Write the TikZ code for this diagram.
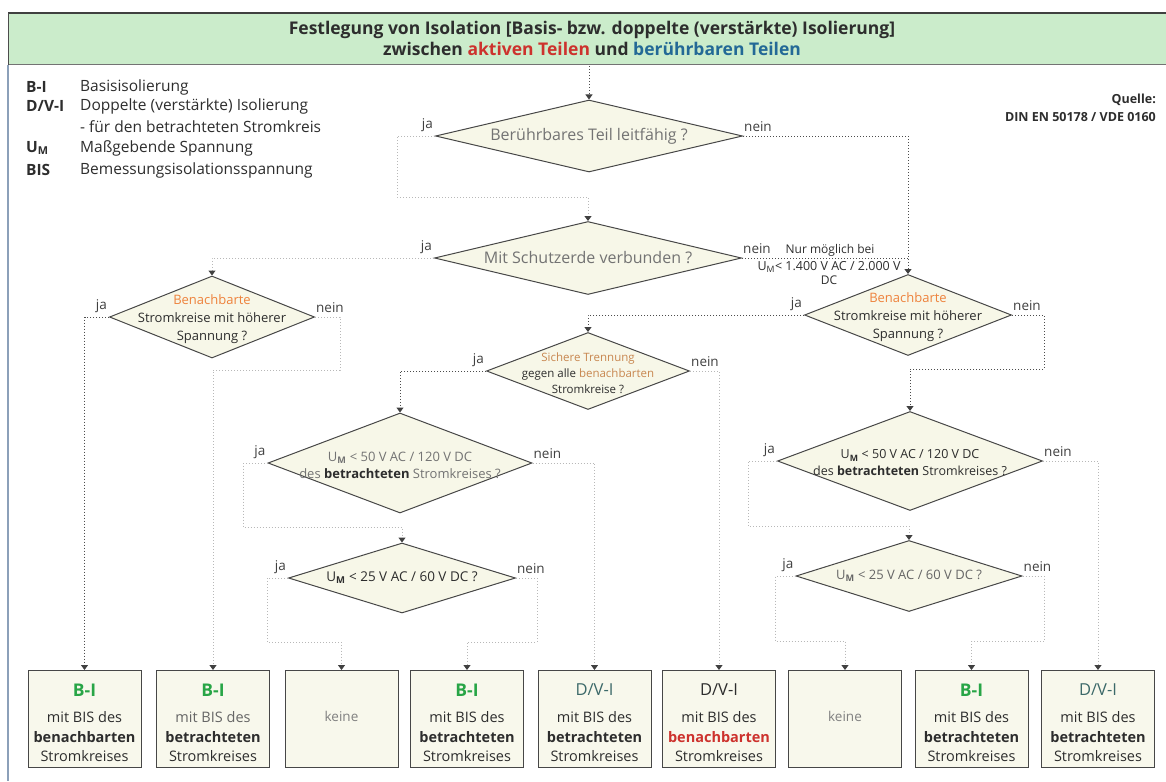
\documentclass[tikz,border=0pt]{standalone}
\usepackage{fontspec}
\setmainfont{Open Sans}
\usetikzlibrary{shapes.geometric,arrows.meta}
\definecolor{hdrgreen}{RGB}{203,236,203}
\definecolor{diafill}{RGB}{247,247,232}
\definecolor{boxfill}{RGB}{248,248,236}
\definecolor{bigreen}{RGB}{40,165,70}
\definecolor{dvteal}{RGB}{60,105,105}
\definecolor{benorange}{RGB}{238,130,60}
\definecolor{sichbrown}{RGB}{200,135,80}
\definecolor{tred}{RGB}{205,50,45}
\definecolor{tblue}{RGB}{35,105,150}
\definecolor{frameblue}{RGB}{140,160,185}
\definecolor{txt}{RGB}{45,45,45}
\newcommand{\fs}[2]{\fontsize{#1}{#2}\selectfont}
\newcommand{\UM}{U\textsubscript{\textbf{M}}}
\begin{document}
\begin{tikzpicture}[x=1pt,y=-1pt,
  dia/.style={diamond, draw=black!72, fill=diafill, line width=1pt, inner sep=0pt},
  dtxt/.style={align=center, inner sep=0pt, text=txt},
  con/.style={dotted, line width=1pt, draw=black!70},
  confade/.style={dotted, line width=1pt, draw=black!28},
  arr/.style={-{Triangle[width=7pt,length=5pt,color=black!75]}},
  resbox/.style={draw=black!72, fill=boxfill, line width=1pt, minimum width=113pt, minimum height=97pt, inner sep=0pt},
  lab/.style={inner sep=1pt, font=\fs{13.5}{15}, text=black!75},
  legl/.style={anchor=west, inner sep=0pt, font=\bfseries\fs{15.5}{17}, text=txt},
  legr/.style={anchor=west, inner sep=0pt, font=\fs{15.5}{17}, text=txt},
  bhead/.style={inner sep=0pt, font=\bfseries\fs{17.5}{19}, text=bigreen},
  dhead/.style={inner sep=0pt, font=\fs{16.5}{19}, text=dvteal},
  bbody/.style={inner sep=0pt, align=center, font=\fs{14.5}{19.5}, text=txt}
]
\useasboundingbox (0,0) rectangle (1166,781);
% header
\fill[hdrgreen] (8,13) rectangle (1166,65);
\draw[black!75, line width=1.2pt] (8,13) -- (1166,13);
\draw[black!55, line width=1pt] (8,65) -- (1166,65);
\draw[black!70, line width=1pt] (8,13) -- (8,65);
\draw[frameblue, line width=1.2pt] (8,65) -- (8,781);
\node[align=center, inner sep=0pt, font=\bfseries\fs{17.5}{21}, text=txt] (title) at (592,38)
  {Festlegung von Isolation [Basis- bzw. doppelte (verstärkte) Isolierung]\\
   zwischen \textcolor{tred}{aktiven Teilen} und \textcolor{tblue}{berührbaren Teilen}};
% legend
\node[legl] (l1) at (26,87) {B-I};
\node[legl] (l2) at (26,106) {D/V-I};
\node[legl] (l3) at (26,148) {U\textsubscript{M}};
\node[legl] (l4) at (26,170) {BIS};
\node[legr] (r1) at (80,87) {Basisisolierung};
\node[legr] (r2) at (80,106) {Doppelte (verstärkte) Isolierung};
\node[legr] (r3) at (80,127) {- für den betrachteten Stromkreis};
\node[legr] (r4) at (80,148) {Maßgebende Spannung};
\node[legr] (r5) at (80,170) {Bemessungsisolationsspannung};
\node[anchor=east, inner sep=0pt, font=\bfseries\fs{12.5}{14}, text=txt] (q1) at (1156,100) {Quelle:};
\node[anchor=east, inner sep=0pt, font=\bfseries\fs{12.5}{14}, text=txt] (q2) at (1156,117) {DIN EN 50178 / VDE 0160};
% diamonds
\node[dia, minimum width=307pt, minimum height=72pt] (d1) at (589,136) {};
\node[dtxt, font=\fs{16}{18}, text=black!55] (d1t) at (d1) {Berührbares Teil leitfähig ?};
\node[dia, minimum width=307pt, minimum height=73pt] (d2) at (588,258) {};
\node[dtxt, font=\fs{16}{18}, text=black!55] (d2t) at (d2) {Mit Schutzerde verbunden ?};
\node[dia, minimum width=205pt, minimum height=82pt] (d3) at (212,317) {};
\node[dtxt, font=\fs{13}{18}] (d3t) at ([yshift=-2pt]d3.center) {\textcolor{benorange}{Benachbarte}\\Stromkreise mit höherer\\Spannung ?};
\node[dia, minimum width=207pt, minimum height=81pt] (d4) at (908,315) {};
\node[dtxt, font=\fs{13}{18}] (d4t) at ([yshift=-2pt]d4.center) {\textcolor{benorange}{Benachbarte}\\Stromkreise mit höherer\\Spannung ?};
\node[dia, minimum width=203pt, minimum height=77pt] (d5) at (588,371) {};
\node[dtxt, font=\fs{11.5}{16}] (d5t) at ([yshift=-2pt]d5.center) {\textcolor{sichbrown}{Sichere Trennung}\\gegen alle \textcolor{sichbrown}{benachbarten}\\Stromkreise ?};
\node[dia, minimum width=264pt, minimum height=100pt] (d6) at (400,463) {};
\node[dtxt, font=\fs{13}{17}, text=black!55] (d6t) at ([yshift=-2pt]d6.center) {\UM{} < 50 V AC / 120 V DC\\des \textcolor{txt}{\textbf{betrachteten}} Stromkreises ?};
\node[dia, minimum width=265pt, minimum height=99pt] (d7) at (910,461) {};
\node[dtxt, font=\fs{12.5}{17}] (d7t) at ([yshift=-2pt]d7.center) {\UM{} < 50 V AC / 120 V DC\\des \textbf{betrachteten} Stromkreises ?};
\node[dia, minimum width=227pt, minimum height=70pt] (d8) at (402,578) {};
\node[dtxt, font=\fs{13.5}{15}] (d8t) at (d8) {\UM{} < 25 V AC / 60 V DC ?};
\node[dia, minimum width=226pt, minimum height=71pt] (d9) at (909,576) {};
\node[dtxt, font=\fs{13}{15}, text=black!60] (d9t) at (d9) {\UM{} < 25 V AC / 60 V DC ?};
% ja / nein labels
\foreach \d in {d1,d2,d3,d4,d5,d6,d7,d8,d9}{
  \node[lab, anchor=south east] (\d ja) at ([xshift=-1pt,yshift=3pt]\d.west) {ja};
  \node[lab, anchor=south west] (\d nein) at ([yshift=3pt]\d.east) {nein};
}
% result boxes
\node[resbox] (b1) at (84.5,719) {};
\node[resbox] (b2) at (213,719) {};
\node[resbox] (b3) at (341.5,719) {};
\node[resbox] (b4) at (467,719) {};
\node[resbox] (b5) at (594.5,719) {};
\node[resbox] (b6) at (719,719) {};
\node[resbox] (b7) at (845,719) {};
\node[resbox] (b8) at (971.5,719) {};
\node[resbox] (b9) at (1098,719) {};
\node[bhead] (b1h) at (84.5,690) {B-I};
\node[bbody] (b1t) at (84.5,737) {mit BIS des\\\textbf{benachbarten}\\Stromkreises};
\node[bhead] (b2h) at (213,690) {B-I};
\node[bbody] (b2t) at (213,737) {\textcolor{black!60}{mit BIS des}\\\textbf{betrachteten}\\Stromkreises};
\node[inner sep=0pt, font=\fs{13.5}{15}, text=black!50] (b3t) at (341.5,716) {keine};
\node[bhead] (b4h) at (467,690) {B-I};
\node[bbody] (b4t) at (467,737) {mit BIS des\\\textbf{betrachteten}\\Stromkreises};
\node[dhead] (b5h) at (594.5,690) {D/V-I};
\node[bbody] (b5t) at (594.5,737) {mit BIS des\\\textbf{betrachteten}\\Stromkreises};
\node[dhead, text=txt] (b6h) at (719,690) {D/V-I};
\node[bbody] (b6t) at (719,737) {mit BIS des\\\textcolor{tred}{\textbf{benachbarten}}\\Stromkreises};
\node[inner sep=0pt, font=\fs{13.5}{15}, text=black!50] (b7t) at (845,716) {keine};
\node[bhead] (b8h) at (971.5,690) {B-I};
\node[bbody] (b8t) at (971.5,737) {mit BIS des\\\textbf{betrachteten}\\Stromkreises};
\node[dhead] (b9h) at (1098,690) {D/V-I};
\node[bbody] (b9t) at (1098,737) {mit BIS des\\\textbf{betrachteten}\\Stromkreises};
% note on D2 nein
\node[inner sep=0pt, font=\fs{12}{13}, text=txt] (nur1) at (830,250) {Nur möglich bei};
\node[inner sep=0pt, font=\fs{12.5}{13}, text=txt] (nur2) at (829,267) {U\textsubscript{M}< 1.400 V AC / 2.000 V};
\node[inner sep=0pt, font=\fs{12}{13}, text=txt] (nur3) at (829,280) {DC};
% connectors
\coordinate (start) at (589,66);
\draw[con,arr] (start) -- (d1.north);
\draw[confade,arr] (d1.west) -| (397,197) -| (d2.north);
\draw[con,arr] (d1.east) -| (d4.north);
\draw[con] (d2.east) -- (d4.north |- d2.east);
\draw[confade,arr] (d2.west) -| (d3.north);
\draw[con,arr] (d3.west) -| (b1.north);
\draw[confade,arr] (d3.east) -| (340,370) -| (b2.north);
\draw[con,arr] (d4.west) -| (d5.north);
\draw[con,arr] (d4.east) -| (1044,369) -| (d7.north);
\draw[con,arr] (d5.west) -| (d6.north);
\draw[confade,arr] (d5.east) -| (b6.north);
\draw[confade,arr] (d6.west) -| (243,527) -| (d8.north);
\draw[confade,arr] (d6.east) -| (b5.north);
\draw[confade,arr] (d8.west) -| (267,642) -| (b3.north);
\draw[confade,arr] (d8.east) -| (537,642) -| (b4.north);
\draw[confade,arr] (d7.west) -| (748,526) -| (d9.north);
\draw[confade,arr] (d7.east) -| (b9.north);
\draw[confade,arr] (d9.west) -| (775,641) -| (b7.north);
\draw[confade,arr] (d9.east) -| (1044,641) -| (b8.north);
\end{tikzpicture}
\end{document}
